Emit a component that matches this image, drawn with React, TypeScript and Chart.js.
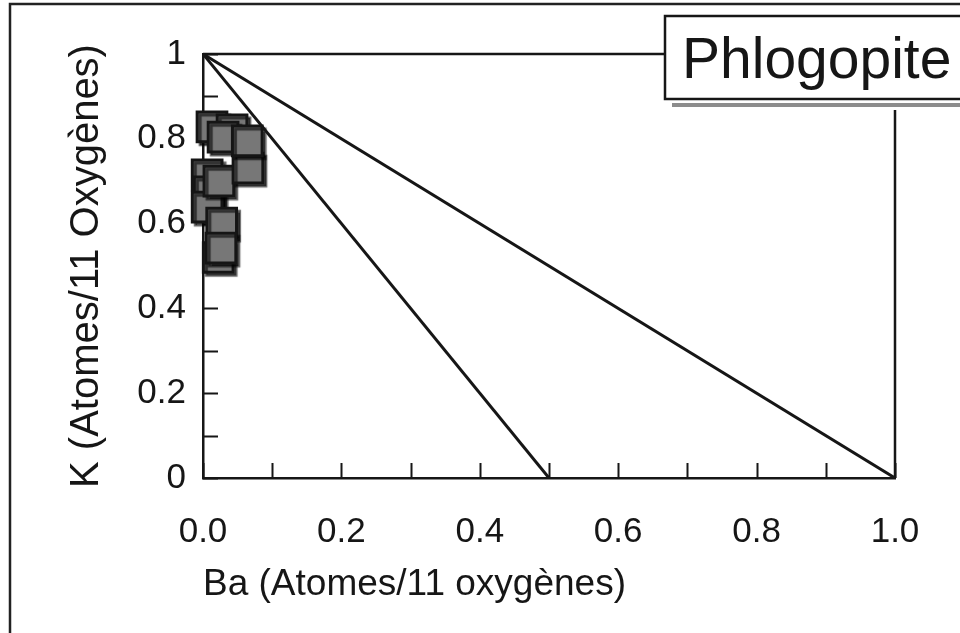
import React, { useEffect, useRef } from 'react';
import { Chart, registerables } from 'chart.js';

Chart.register(...registerables);

const FONT = "'Liberation Sans', Arial, Helvetica, sans-serif";
const INK = '#161616';

// Phlogopite analyses: Ba and K (atoms per 11 oxygens)
const BA = [0.013, 0.042, 0.006, 0.009, 0.006, 0.022, 0.029, 0.023, 0.065, 0.064, 0.027, 0.026];
const K = [0.828, 0.821, 0.715, 0.675, 0.639, 0.52, 0.804, 0.7, 0.731, 0.795, 0.601, 0.542];

// Reference substitution lines
const LINE_HALF_X = [0, 0.5];
const LINE_HALF_Y = [1, 0];
const LINE_FULL_X = [0, 1];
const LINE_FULL_Y = [1, 0];

const X_TITLE = 'Ba (Atomes/11 oxygènes)';
const Y_TITLE = 'K (Atomes/11 Oxygènes)';
const BOX_LABEL = 'Phlogopite';

const SCATTER_INDEX = 2;

const decorPlugin = {
  id: 'decor',
  beforeDatasetsDraw(chart: any) {
    const { ctx, chartArea } = chart;
    const { left, right, top, bottom } = chartArea;
    ctx.save();
    ctx.strokeStyle = INK;
    ctx.lineWidth = 2.5;
    // top and right frame
    ctx.beginPath();
    ctx.moveTo(left, top);
    ctx.lineTo(right, top);
    ctx.lineTo(right, bottom);
    ctx.stroke();
    // inward tick marks
    ctx.lineWidth = 2;
    const xs = chart.scales.x;
    const ys = chart.scales.y;
    ctx.beginPath();
    xs.ticks.forEach((t: any) => {
      const px = Math.round(xs.getPixelForValue(t.value)) + 0.5;
      ctx.moveTo(px, bottom);
      ctx.lineTo(px, bottom - 15);
    });
    ys.ticks.forEach((t: any) => {
      const py = Math.round(ys.getPixelForValue(t.value)) + 0.5;
      ctx.moveTo(left, py);
      ctx.lineTo(left + 15, py);
    });
    ctx.stroke();
    ctx.restore();
  },
  beforeDatasetDraw(chart: any, args: any) {
    if (args.index !== SCATTER_INDEX) return;
    const ctx = chart.ctx;
    ctx.save();
    ctx.shadowColor = 'rgba(0,0,0,0.6)';
    ctx.shadowOffsetX = 3;
    ctx.shadowOffsetY = 3;
    ctx.shadowBlur = 1;
  },
  afterDatasetDraw(chart: any, args: any) {
    if (args.index !== SCATTER_INDEX) return;
    chart.ctx.restore();
  },
  afterDraw(chart: any) {
    const { ctx } = chart;
    ctx.save();
    // label box
    ctx.fillStyle = '#ffffff';
    ctx.fillRect(665, 16, 300, 94);
    ctx.strokeStyle = INK;
    ctx.lineWidth = 2.5;
    ctx.strokeRect(665, 16, 310, 83);
    ctx.fillStyle = '#8c8c8c';
    ctx.fillRect(672, 103, 288, 4);
    ctx.fillStyle = INK;
    ctx.font = `57px ${FONT}`;
    ctx.textBaseline = 'alphabetic';
    ctx.textAlign = 'left';
    ctx.fillText(BOX_LABEL, 682, 78);
    // outer figure frame
    ctx.strokeStyle = '#222';
    ctx.lineWidth = 2.5;
    ctx.beginPath();
    ctx.moveTo(10, 633);
    ctx.lineTo(10, 4);
    ctx.lineTo(960, 4);
    ctx.stroke();
    ctx.restore();
  },
};

export default function App() {
  const ref = useRef<HTMLCanvasElement | null>(null);

  useEffect(() => {
    if (!ref.current) return;
    const chart = new Chart(ref.current, {
      type: 'scatter',
      data: {
        datasets: [
          {
            type: 'line',
            label: 'K + Ba = 1 (2K = Ba)',
            data: LINE_HALF_X.map((x, i) => ({ x, y: LINE_HALF_Y[i] })),
            borderColor: INK,
            borderWidth: 3,
            pointRadius: 0,
            fill: false,
          } as any,
          {
            type: 'line',
            label: 'K + Ba = 1',
            data: LINE_FULL_X.map((x, i) => ({ x, y: LINE_FULL_Y[i] })),
            borderColor: INK,
            borderWidth: 3,
            pointRadius: 0,
            fill: false,
          } as any,
          {
            type: 'scatter',
            label: BOX_LABEL,
            data: BA.map((x, i) => ({ x, y: K[i] })),
            pointStyle: 'rect',
            pointRadius: 21,
            backgroundColor: '#777777',
            borderColor: '#151515',
            borderWidth: 3,
            clip: false,
          } as any,
        ],
      },
      options: {
        responsive: false,
        maintainAspectRatio: false,
        animation: false,
        layout: { padding: { left: 10, top: 54, right: 65, bottom: 0 } },
        plugins: {
          legend: { display: false },
          tooltip: { enabled: false },
        },
        scales: {
          x: {
            type: 'linear',
            min: 0,
            max: 1,
            afterFit: (s: any) => {
              s.height = 155;
            },
            grid: { display: false, drawTicks: false, drawOnChartArea: false },
            border: { display: true, color: INK, width: 2.5 },
            ticks: {
              stepSize: 0.1,
              autoSkip: false,
              maxRotation: 0,
              padding: 33,
              color: INK,
              font: { family: FONT, size: 35 },
              callback: (v: any) => {
                const n = Math.round(Number(v) * 10);
                return n % 2 === 0 ? (n / 10).toFixed(1) : '';
              },
            },
            title: {
              display: true,
              text: X_TITLE,
              align: 'start',
              color: INK,
              font: { family: FONT, size: 37 },
              padding: { top: 0, bottom: 26 },
            },
          },
          y: {
            type: 'linear',
            min: 0,
            max: 1,
            afterFit: (s: any) => {
              s.width = 193;
            },
            grid: { display: false, drawTicks: false, drawOnChartArea: false },
            border: { display: true, color: INK, width: 2.5 },
            ticks: {
              stepSize: 0.1,
              autoSkip: false,
              padding: 17,
              color: INK,
              font: { family: FONT, size: 35 },
              callback: (v: any) => {
                const n = Math.round(Number(v) * 10);
                if (n % 2 !== 0) return '';
                if (n === 0) return '0';
                if (n === 10) return '1';
                return (n / 10).toFixed(1);
              },
            },
            title: {
              display: true,
              text: Y_TITLE,
              color: INK,
              font: { family: FONT, size: 40 },
              padding: { top: 53, bottom: 0 },
            },
          },
        },
      } as any,
      plugins: [decorPlugin],
    });
    return () => chart.destroy();
  }, []);

  return (
    <div
      style={{
        position: 'fixed',
        left: 0,
        top: 0,
        width: 960,
        height: 633,
        background: '#ffffff',
      }}
    >
      <canvas ref={ref} width={960} height={633} style={{ display: 'block', width: 960, height: 633 }} />
    </div>
  );
}
